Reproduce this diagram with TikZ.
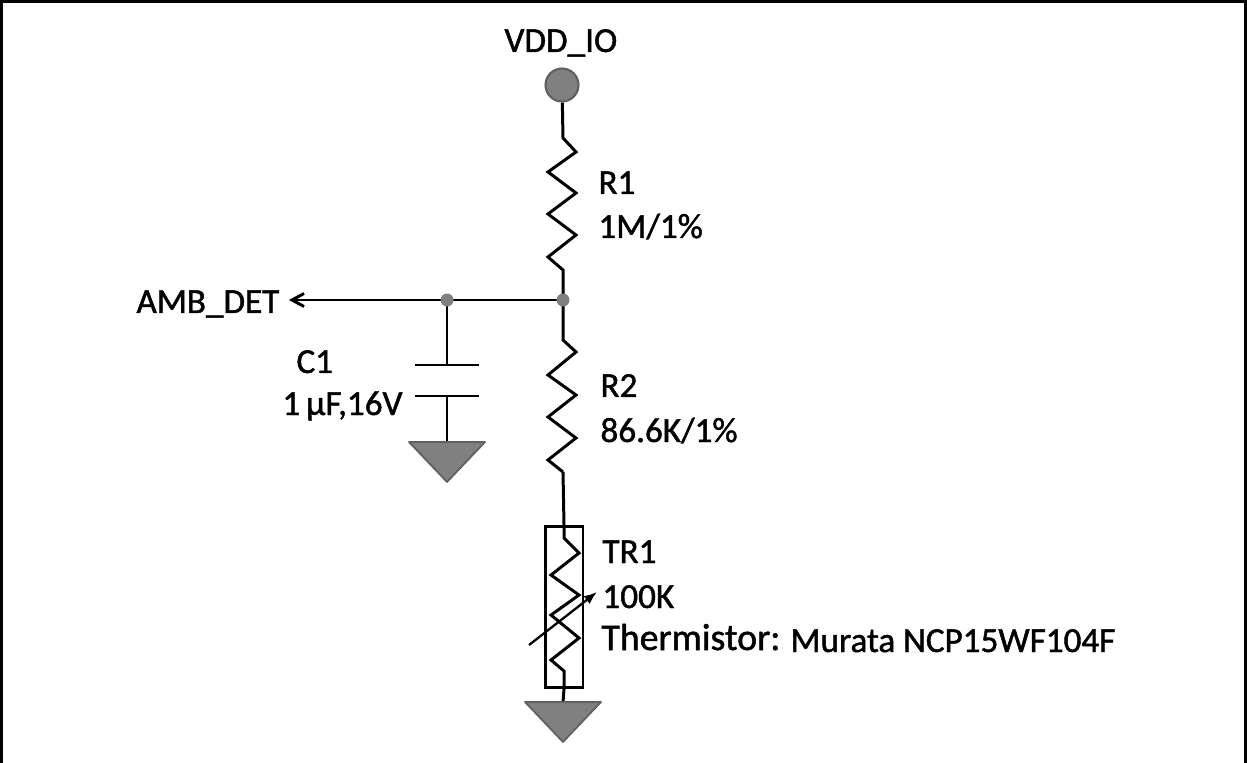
\documentclass[tikz,border=0pt]{standalone}
\usepackage{fontspec}
\setmainfont{Carlito}[BoldFont=Carlito, BoldFeatures={FakeBold=1.3}]
\usetikzlibrary{arrows.meta}
\definecolor{pin}{RGB}{128,128,128}
\definecolor{pinedge}{RGB}{96,96,96}
\tikzset{
  lbl/.style={anchor=base west, inner sep=0pt, font=\fontsize{20}{24}\selectfont\bfseries},
  dot/.style={circle, fill=pin, inner sep=0pt, minimum size=0.26cm},
  gnd/.style={fill=pin, draw=pinedge, line width=1pt, line join=round},
}
\begin{document}
\begin{tikzpicture}[x=0.02cm, y=-0.02cm, >=latex, line width=1.7pt]
\useasboundingbox (0,0) rectangle (1247,763);
% frame
\draw[line width=2pt] (1,763) -- (1,1) -- (1246,1) -- (1246,763);

% supply pin
\node[circle, fill=pin, draw=pinedge, line width=1.2pt, minimum size=0.66cm, inner sep=0pt] (vdd) at (562,85) {};
\node[lbl] (vddlbl) at (503,52) {VDD\_IO};

\coordinate (n1) at (563,300);
\coordinate (n2) at (447,300);

% R1
\coordinate (r1top) at (563,138);
\draw[line join=miter] (vdd) -- (r1top) -- ++(13,14) -- ++(-28,20) -- ++(28,21) -- ++(-28,21)
  -- ++(28,21) -- ++(-28,22) -- (563,270) coordinate (r1bot) -- (n1);
\node[lbl] (r1name) at (597,194) {R1};
\node[lbl] (r1val) at (597,238) {1M/1\%};

% AMB_DET output
\node[lbl, inner xsep=0.16cm] (amb) at (127,313) {AMB\_DET};
\draw[-{Straight Barb[length=0.24cm, width=0.26cm]}] (n1) -- (amb.east |- n1);

% C1
\draw (n2) -- (447,365) coordinate (c1a);
\draw (415,365) -- (479,365);
\draw (415,396) -- (479,396);
\draw (447,396) coordinate (c1b) -- (447,442) coordinate (g1);
\draw[gnd] (g1) ++(-38,0) -- ++(76,0) -- ++(-38,40) -- cycle;
\node[lbl] (c1name) at (295,373) {C1};
\node[lbl] (c1val) at (281,415) {1\,μF,16V};

% R2
\coordinate (r2top) at (563,340);
\draw[line join=miter] (n1) -- (r2top) -- ++(13,12) -- ++(-28,23) -- ++(28,20) -- ++(-28,22)
  -- ++(28,21) -- ++(-28,22) -- (563,472) coordinate (r2bot);
\node[lbl] (r2name) at (599,397) {R2};
\node[lbl] (r2val) at (599,442) {86.6K/1\%};

% TR1
\node[draw, minimum width=0.76cm, minimum height=3.22cm, inner sep=0pt] (tr1) at (564,607) {};
\draw (r2bot) -- (tr1.north);
\draw[line join=miter] (tr1.north) -- ++(0,13) -- ++(15,15) -- ++(-28,22) -- ++(28,20) -- ++(-28,20)
  -- ++(28,23) -- ++(-28,22) -- ++(13,11) -- (tr1.south) -- (563,702) coordinate (g2);
\draw[gnd] (g2) ++(-38,0) -- ++(76,0) -- ++(-38,40) -- cycle;
\draw[line width=1.3pt, -{Latex[length=0.26cm, width=0.2cm]}] (529,645) coordinate (tra) -- (597,592);
\node[lbl] (trname) at (601,563) {TR1};
\node[lbl] (trval) at (601,608) {100K};
\node[lbl, font=\fontsize{21.5}{25}\selectfont\bfseries] (trtype) at (600,650) {Thermistor:};
\node[lbl] (trpart) at (789,652) {Murata NCP15WF104F};

% junctions
\node[dot] at (n1) {};
\node[dot] at (n2) {};
\end{tikzpicture}
\end{document}
